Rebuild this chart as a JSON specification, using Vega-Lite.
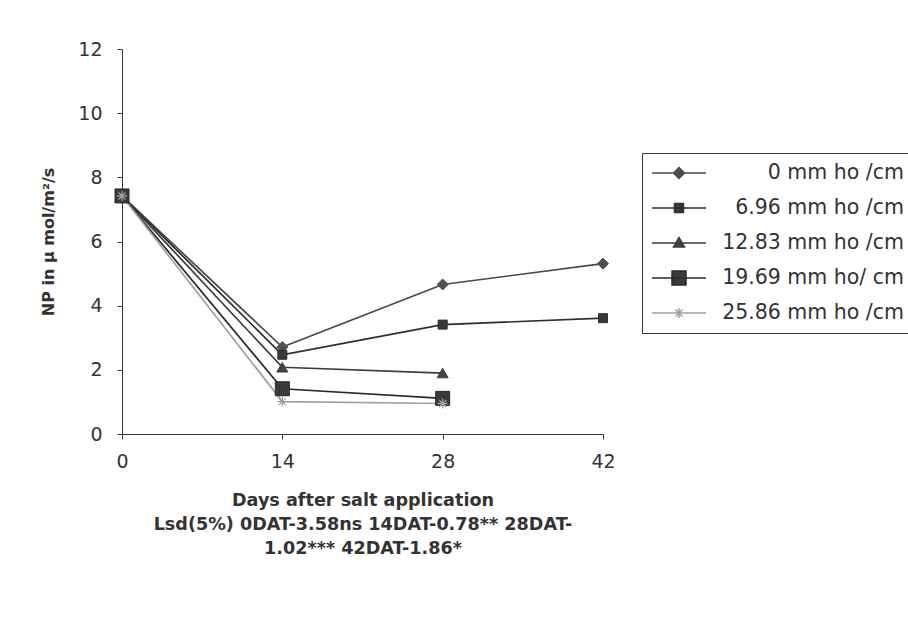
{
  "$schema": "https://vega.github.io/schema/vega-lite/v6.json",
  "autosize": "none",
  "width": 481,
  "height": 385,
  "padding": {"left": 122, "top": 49, "right": 305, "bottom": 198},
  "background": "white",
  "data": {
    "values": [
      {"series": "0  mm ho /cm", "day": 0, "np": 7.42},
      {"series": "0  mm ho /cm", "day": 14, "np": 2.71},
      {"series": "0  mm ho /cm", "day": 28, "np": 4.66},
      {"series": "0  mm ho /cm", "day": 42, "np": 5.31},
      {"series": "6.96 mm ho /cm", "day": 0, "np": 7.42},
      {"series": "6.96 mm ho /cm", "day": 14, "np": 2.47},
      {"series": "6.96 mm ho /cm", "day": 28, "np": 3.41},
      {"series": "6.96 mm ho /cm", "day": 42, "np": 3.61},
      {"series": "12.83 mm ho /cm", "day": 0, "np": 7.42},
      {"series": "12.83 mm ho /cm", "day": 14, "np": 2.08},
      {"series": "12.83 mm ho /cm", "day": 28, "np": 1.9},
      {"series": "19.69 mm ho/ cm", "day": 0, "np": 7.42},
      {"series": "19.69 mm ho/ cm", "day": 14, "np": 1.41},
      {"series": "19.69 mm ho/ cm", "day": 28, "np": 1.11},
      {"series": "25.86 mm ho /cm", "day": 0, "np": 7.42},
      {"series": "25.86 mm ho /cm", "day": 14, "np": 1.01},
      {"series": "25.86 mm ho /cm", "day": 28, "np": 0.95}
    ]
  },
  "encoding": {
    "x": {
      "field": "day", "type": "quantitative",
      "scale": {"domain": [0, 42], "nice": false, "zero": false},
      "axis": {
        "values": [0, 14, 28, 42],
        "labelFlush": false,
        "title": ["Days after salt application", "Lsd(5%) 0DAT-3.58ns 14DAT-0.78** 28DAT-", "1.02*** 42DAT-1.86*"],
        "titleFontSize": 17.6,
        "titleLineHeight": 24,
        "titlePadding": 20,
        "labelPadding": 13
      }
    },
    "y": {
      "field": "np", "type": "quantitative",
      "scale": {"domain": [0, 12], "nice": false},
      "axis": {
        "values": [0, 2, 4, 6, 8, 10, 12],
        "labelFlush": false,
        "title": "NP in µ mol/m²/s",
        "titleFontSize": 16,
        "titlePadding": 21,
        "labelPadding": 15
      }
    },
    "stroke": {
      "field": "series", "type": "nominal",
      "scale": {
        "domain": ["0  mm ho /cm", "6.96 mm ho /cm", "12.83 mm ho /cm", "19.69 mm ho/ cm", "25.86 mm ho /cm"],
        "range": ["#4a4a4a", "#2e2e2e", "#3c3c3c", "#2a2a2a", "#a0a0a0"]
      },
      "legend": {
        "title": null,
        "orient": "none",
        "legendX": 520,
        "legendY": 104,
        "strokeColor": "#333333",
        "fillColor": "white",
        "padding": 9,
        "rowPadding": 13,
        "symbolSize": 400,
        "symbolStrokeWidth": 1.5,
        "labelFont": "DejaVu Sans",
        "labelFontSize": 20.5,
        "labelColor": "#333333",
        "labelAlign": "right",
        "labelOffset": 231,
        "labelLimit": 400
      }
    },
    "fill": {
      "field": "series", "type": "nominal",
      "scale": {
        "domain": ["0  mm ho /cm", "6.96 mm ho /cm", "12.83 mm ho /cm", "19.69 mm ho/ cm", "25.86 mm ho /cm"],
        "range": ["#505050", "#3a3a3a", "#444444", "#3a3a3a", "#909090"]
      },
      "legend": null
    }
  },
  "layer": [
    {
      "mark": {"type": "line", "strokeWidth": 1.7},
      "encoding": {"fill": {"value": null}}
    },
    {
      "transform": [{"filter": {"field": "day", "lt": 0}}],
      "mark": {"type": "point", "filled": true, "opacity": 1, "size": 400, "strokeWidth": 1.5},
      "encoding": {
        "shape": {
          "field": "series", "type": "nominal",
          "scale": {
            "domain": ["0  mm ho /cm", "6.96 mm ho /cm", "12.83 mm ho /cm", "19.69 mm ho/ cm", "25.86 mm ho /cm"],
            "range": [
              "M-1,0H4.4M1.15,0L1.7,-0.55L2.25,0L1.7,0.55Z",
              "M-1,0H4.4M1.25,-0.45H2.15V0.45H1.25Z",
              "M-1,0H4.4M1.7,-0.55L2.25,0.4L1.15,0.4Z",
              "M-1,0H4.4M1,-0.7H2.4V0.7H1Z",
              "M-1,0H4.4M1.7,-0.5V0.5M1.35,-0.35L2.05,0.35M1.35,0.35L2.05,-0.35"
            ]
          },
          "legend": null
        }
      }
    },
    {
      "transform": [{"filter": {"field": "series", "equal": "0  mm ho /cm"}}],
      "mark": {"type": "point", "filled": true, "opacity": 1, "shape": "diamond", "size": 121, "strokeWidth": 1}
    },
    {
      "transform": [{"filter": {"field": "series", "equal": "6.96 mm ho /cm"}}],
      "mark": {"type": "point", "filled": true, "opacity": 1, "shape": "square", "size": 81, "strokeWidth": 1}
    },
    {
      "transform": [{"filter": {"field": "series", "equal": "12.83 mm ho /cm"}}],
      "mark": {"type": "point", "filled": true, "opacity": 1, "shape": "triangle-up", "size": 121, "strokeWidth": 1}
    },
    {
      "transform": [{"filter": {"field": "series", "equal": "19.69 mm ho/ cm"}}],
      "mark": {"type": "point", "filled": true, "opacity": 1, "shape": "square", "size": 196, "strokeWidth": 1}
    },
    {
      "transform": [{"filter": {"field": "series", "equal": "25.86 mm ho /cm"}}],
      "mark": {"type": "point", "filled": true, "opacity": 1, "shape": "M-1,0H1M0,-1V1M-0.7,-0.7L0.7,0.7M-0.7,0.7L0.7,-0.7", "size": 100, "strokeWidth": 1.3}
    }
  ],
  "config": {
    "view": {"stroke": null},
    "font": "DejaVu Sans",
    "axis": {
      "grid": false,
      "domainColor": "#333333",
      "tickColor": "#333333",
      "tickSize": 5,
      "labelFont": "DejaVu Sans",
      "labelFontSize": 19,
      "labelColor": "#333333",
      "titleFont": "DejaVu Sans",
      "titleFontWeight": "bold",
      "titleColor": "#333333"
    }
  }
}
